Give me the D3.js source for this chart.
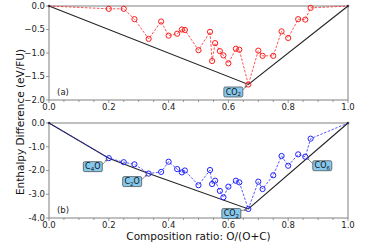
<!DOCTYPE html>
<html><head><meta charset="utf-8">
<script src="https://cdn.jsdelivr.net/npm/d3@7"></script>
<style>html,body{margin:0;padding:0;background:#fff;}svg{display:block;font-family:"DejaVu Sans",sans-serif;}</style>
</head><body>
<svg id="c" width="374" height="247"></svg>
<script>
// composition ratios O/(O+C)
const ratios = [0, 0.2, 0.25, 0.2857, 0.3333, 0.375, 0.4, 0.4286, 0.4444, 0.4545, 0.5, 0.5385, 0.5455, 0.5556, 0.5714, 0.5833, 0.6, 0.625, 0.6364, 0.6667, 0.7, 0.7143, 0.75, 0.7778, 0.8, 0.8333, 0.8571, 0.875, 1.0];
const enthalpyA = [0, -0.06, -0.06, -0.28, -0.70, -0.33, -0.63, -0.59, -0.50, -0.51, -0.94, -0.55, -1.17, -0.79, -0.96, -1.05, -1.22, -0.91, -0.93, -1.67, -0.95, -1.06, -1.06, -0.54, -0.68, -0.28, -0.29, -0.04, 0];
const enthalpyB = [0, -1.48, -1.65, -1.74, -2.13, -2.06, -1.63, -1.94, -2.08, -2.00, -2.62, -1.98, -2.57, -2.43, -2.86, -3.13, -2.68, -2.43, -2.50, -3.62, -2.47, -2.78, -2.20, -1.39, -1.80, -1.32, -1.42, -0.66, 0];
const hullIdxA = [0, 19, 28];
const hullIdxB = [0, 1, 4, 19, 28];
const xTicks = [0, 0.2, 0.4, 0.6, 0.8, 1.0];
const xTickLabels = ["0.0", "0.2", "0.4", "0.6", "0.8", "1.0"];
const yTicksA = [0, -0.5, -1.0, -1.5, -2.0];
const yTickLabelsA = ["0.0", "\u22120.5", "\u22121.0", "\u22121.5", "\u22122.0"];
const yTicksB = [0, -1, -2, -3, -4];
const yTickLabelsB = ["0.0", "-1.0", "-2.0", "-3.0", "-4.0"];
const annotA = [{base: "CO", sub: "2", after: "", idx: 19, dx: -15, dy: 7.5}];
const annotB = [
  {base: "C", sub: "4", after: "O", idx: 1, dx: -16, dy: 8.5},
  {base: "C", sub: "2", after: "O", idx: 4, dx: -16.5, dy: 8},
  {base: "CO", sub: "2", after: "", idx: 19, dx: -17, dy: 4.5},
  {base: "CO", sub: "6", after: "", idx: 26, dx: 17, dy: 9}
];

const svg = d3.select("#c");
const L = 49, R = 348;
const x = d3.scaleLinear().domain([0, 1]).range([L, R]);

svg.append("defs").append("marker").attr("id", "ah").attr("viewBox", "0 0 6 6")
  .attr("refX", 5.5).attr("refY", 3).attr("markerWidth", 4).attr("markerHeight", 4)
  .attr("orient", "auto").append("path").attr("d", "M0,0.5L6,3L0,5.5Z").attr("fill", "#666");

function panel(top, bottom, ydom, yTicks, yLabels, vals, hullIdx, color, tag, annots) {
  const y = d3.scaleLinear().domain(ydom).range([top, bottom]);
  const g = svg.append("g");
  g.append("rect").attr("x", L).attr("y", top).attr("width", R - L).attr("height", bottom - top)
    .attr("fill", "none").attr("stroke", "#808080").attr("stroke-width", 1);
  const minor = d3.range(0, 1.0001, 0.05);
  minor.forEach(v => {
    const isMajor = Math.abs(v * 5 - Math.round(v * 5)) < 1e-6;
    g.append("line").attr("x1", x(v)).attr("x2", x(v)).attr("y1", bottom).attr("y2", bottom + (isMajor ? 3 : 2))
      .attr("stroke", "#808080").attr("stroke-width", 0.8);
  });
  xTicks.forEach((v, i) => {
    g.append("text").attr("x", x(v)).attr("y", bottom + 9.8).attr("text-anchor", "middle")
      .attr("font-size", 8.5).attr("fill", "#222").text(xTickLabels[i]);
  });
  yTicks.forEach((v, i) => {
    g.append("line").attr("x1", L - 3).attr("x2", L).attr("y1", y(v)).attr("y2", y(v))
      .attr("stroke", "#808080").attr("stroke-width", 0.8);
    g.append("text").attr("x", L - 4).attr("y", y(v)).attr("dy", "0.35em").attr("text-anchor", "end")
      .attr("font-size", 8.5).attr("fill", "#222").text(yLabels[i]);
  });
  const hullLine = d3.line().x(i => x(ratios[i])).y(i => y(vals[i]));
  g.append("path").attr("d", hullLine(hullIdx)).attr("fill", "none").attr("stroke", "#222").attr("stroke-width", 1.1);
  const line = d3.line().x((d, i) => x(ratios[i])).y(d => y(d));
  g.append("path").attr("d", line(vals)).attr("fill", "none").attr("stroke", color).attr("stroke-opacity", 0.75)
    .attr("stroke-width", 1).attr("stroke-dasharray", "2.5,1.5");
  vals.forEach((v, i) => {
    if (i === 0 || i === vals.length - 1) {
      g.append("circle").attr("cx", x(ratios[i])).attr("cy", y(v)).attr("r", 1.3).attr("fill", "#223").attr("opacity", 0.8);
    } else {
      g.append("circle").attr("cx", x(ratios[i])).attr("cy", y(v)).attr("r", 2.6)
        .attr("fill", "none").attr("stroke", color).attr("stroke-width", 1);
    }
  });
  g.append("text").attr("x", L + 14).attr("y", bottom - 5).attr("text-anchor", "middle")
    .attr("font-size", 8.5).attr("fill", "#222").text(tag);
  annots.forEach(a => {
    const tx = x(ratios[a.idx]), ty = y(vals[a.idx]);
    const cx = tx + a.dx, cy = ty + a.dy;
    const w = 19, h = 10;
    const ex = a.dx < 0 ? cx + w / 2 : cx - w / 2;
    const ey = cy - (a.dy > 6 ? 2 : 3);
    g.append("line").attr("x1", ex).attr("y1", ey).attr("x2", tx + (a.dx < 0 ? -1.5 : 1.5)).attr("y2", ty + 1)
      .attr("stroke", "#666").attr("stroke-width", 0.7).attr("marker-end", "url(#ah)");
    g.append("rect").attr("x", cx - w / 2).attr("y", cy - h / 2).attr("width", w).attr("height", h)
      .attr("rx", 1.5).attr("fill", "#86c8ec").attr("stroke", "#444").attr("stroke-width", 0.7);
    const t = g.append("text").attr("x", cx).attr("y", cy + 2.7).attr("text-anchor", "middle")
      .attr("font-size", 8).attr("fill", "#111");
    t.append("tspan").text(a.base);
    t.append("tspan").attr("font-size", 5.5).attr("dy", 1.6).text(a.sub);
    if (a.after) t.append("tspan").attr("dy", -1.6).text(a.after);
  });
}

panel(6, 100, [0, -2], yTicksA, yTickLabelsA, enthalpyA, hullIdxA, "#ff1a1a", "(a)", annotA);
panel(123, 218, [0, -4], yTicksB, yTickLabelsB, enthalpyB, hullIdxB, "#2222ff", "(b)", annotB);

svg.append("text").attr("x", 198.5).attr("y", 239.5).attr("text-anchor", "middle")
  .attr("font-size", 10.5).attr("fill", "#111").text("Composition ratio: O/(O+C)");
svg.append("text").attr("transform", "translate(23.5,122) rotate(-90)").attr("text-anchor", "middle")
  .attr("font-size", 10.5).attr("fill", "#111").text("Enthalpy Difference (eV/FU)");
</script>
</body></html>
